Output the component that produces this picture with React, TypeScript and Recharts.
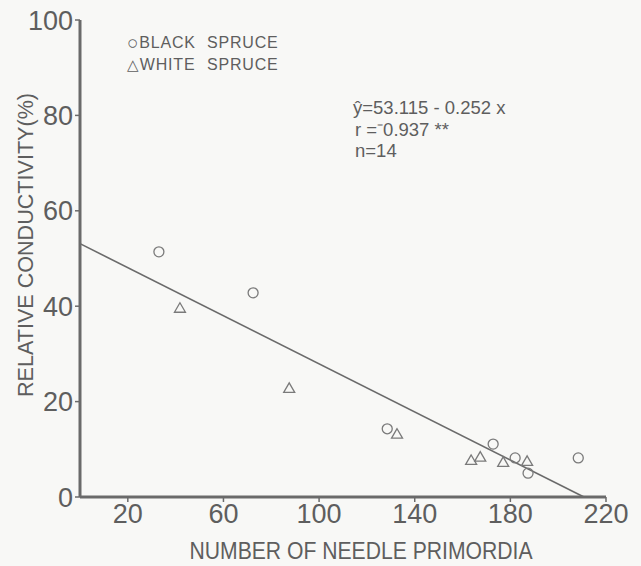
import React from 'react';
import {
   ScatterChart,
   Scatter,
   XAxis,
   YAxis,
   ReferenceLine
} from 'recharts';

// values
const blackSpruce = [
   { x: 33, y: 51.4 },
   { x: 72.4, y: 42.8 },
   { x: 128.5, y: 14.3 },
   { x: 172.8, y: 11.1 },
   { x: 182, y: 8.2 },
   { x: 187.4, y: 5.0 },
   { x: 208.4, y: 8.2 }
];

const whiteSpruce = [
   { x: 41.8, y: 39.4 },
   { x: 87.5, y: 22.6 },
   { x: 132.6, y: 13.0 },
   { x: 163.6, y: 7.5 },
   { x: 167.4, y: 8.2 },
   { x: 177, y: 7.1 },
   { x: 187, y: 7.3 }
];

const xTicks = [20, 60, 100, 140, 180, 220];
const yTicks = [0, 20, 40, 60, 80, 100];

const intercept = 53.115;
const slope = -0.252;

const ink = '#5e5e5e';
const font = '"Liberation Sans", Arial, sans-serif';

const CircleMark = (p: any) => (
   <circle cx={p.cx} cy={p.cy} r={5} fill="none" stroke="#7a7a7a" strokeWidth={1.3} />
);

const TriangleMark = (p: any) => (
   <polygon
      points={`${p.cx},${p.cy - 6.3} ${p.cx - 5.5},${p.cy + 3.2} ${p.cx + 5.5},${p.cy + 3.2}`}
      fill="none"
      stroke="#7a7a7a"
      strokeWidth={1.3}
   />
);

const App = () => (
   <div
      style={{
         position: 'absolute',
         left: 0,
         top: 0,
         width: 641,
         height: 566,
         background: '#f8f8f6'
      }}>
      <ScatterChart
         width={641}
         height={566}
         margin={{ top: 20, right: 35, bottom: 0, left: 0 }}>
         <XAxis
            type="number"
            dataKey="x"
            domain={[0, 220]}
            ticks={xTicks}
            height={69}
            tickSize={5}
            axisLine={{ stroke: '#6a6a6a', strokeWidth: 3 }}
            tickLine={{ stroke: '#6a6a6a', strokeWidth: 1.5 }}
            tick={{ fill: ink, fontSize: 27, fontFamily: font }}
         />
         <YAxis
            type="number"
            dataKey="y"
            domain={[0, 100]}
            ticks={yTicks}
            width={80}
            tickSize={5}
            axisLine={{ stroke: '#6a6a6a', strokeWidth: 3 }}
            tickLine={{ stroke: '#6a6a6a', strokeWidth: 1.5 }}
            tick={{ fill: ink, fontSize: 27, fontFamily: font }}
         />
         <ReferenceLine
            segment={[
               { x: 0, y: intercept },
               { x: -intercept / slope, y: 0 }
            ]}
            stroke="#6a6a6a"
            strokeWidth={1.6}
         />
         <Scatter
            name="BLACK SPRUCE"
            data={blackSpruce}
            shape={CircleMark}
            isAnimationActive={false}
         />
         <Scatter
            name="WHITE SPRUCE"
            data={whiteSpruce}
            shape={TriangleMark}
            isAnimationActive={false}
         />
      </ScatterChart>
      <svg
         width={641}
         height={566}
         style={{ position: 'absolute', left: 0, top: 0, pointerEvents: 'none' }}
         fontFamily={font}
         fill={ink}>
         {/* legend */}
         <text x={127} y={48} fontSize={16} letterSpacing={0.8}>
            <tspan fontSize={19} dy={1}>○</tspan>
            <tspan dy={-1}>BLACK</tspan>
         </text>
         <text x={207} y={48} fontSize={16} letterSpacing={0.8}>SPRUCE</text>
         <text x={127} y={70} fontSize={16} letterSpacing={0.8}>
            <tspan fontSize={14.5}>△</tspan>
            <tspan>WHITE</tspan>
         </text>
         <text x={207} y={70} fontSize={16} letterSpacing={0.8}>SPRUCE</text>
         {/* regression */}
         <text x={353} y={114} fontSize={18.5}>ŷ=53.115 - 0.252 x</text>
         <text x={355} y={136} fontSize={18.5}>r =⁻0.937 **</text>
         <text x={355} y={157} fontSize={18.5}>n=14</text>
         {/* axis titles */}
         <text
            x={361}
            y={559}
            fontSize={23}
            textAnchor="middle"
            textLength={343}
            lengthAdjust="spacingAndGlyphs">
            NUMBER OF NEEDLE PRIMORDIA
         </text>
         <text
            x={33}
            y={245}
            fontSize={22}
            textAnchor="middle"
            textLength={304}
            lengthAdjust="spacingAndGlyphs"
            transform="rotate(-90 33 245)">
            RELATIVE CONDUCTIVITY(%)
         </text>
      </svg>
   </div>
);

export default App;
